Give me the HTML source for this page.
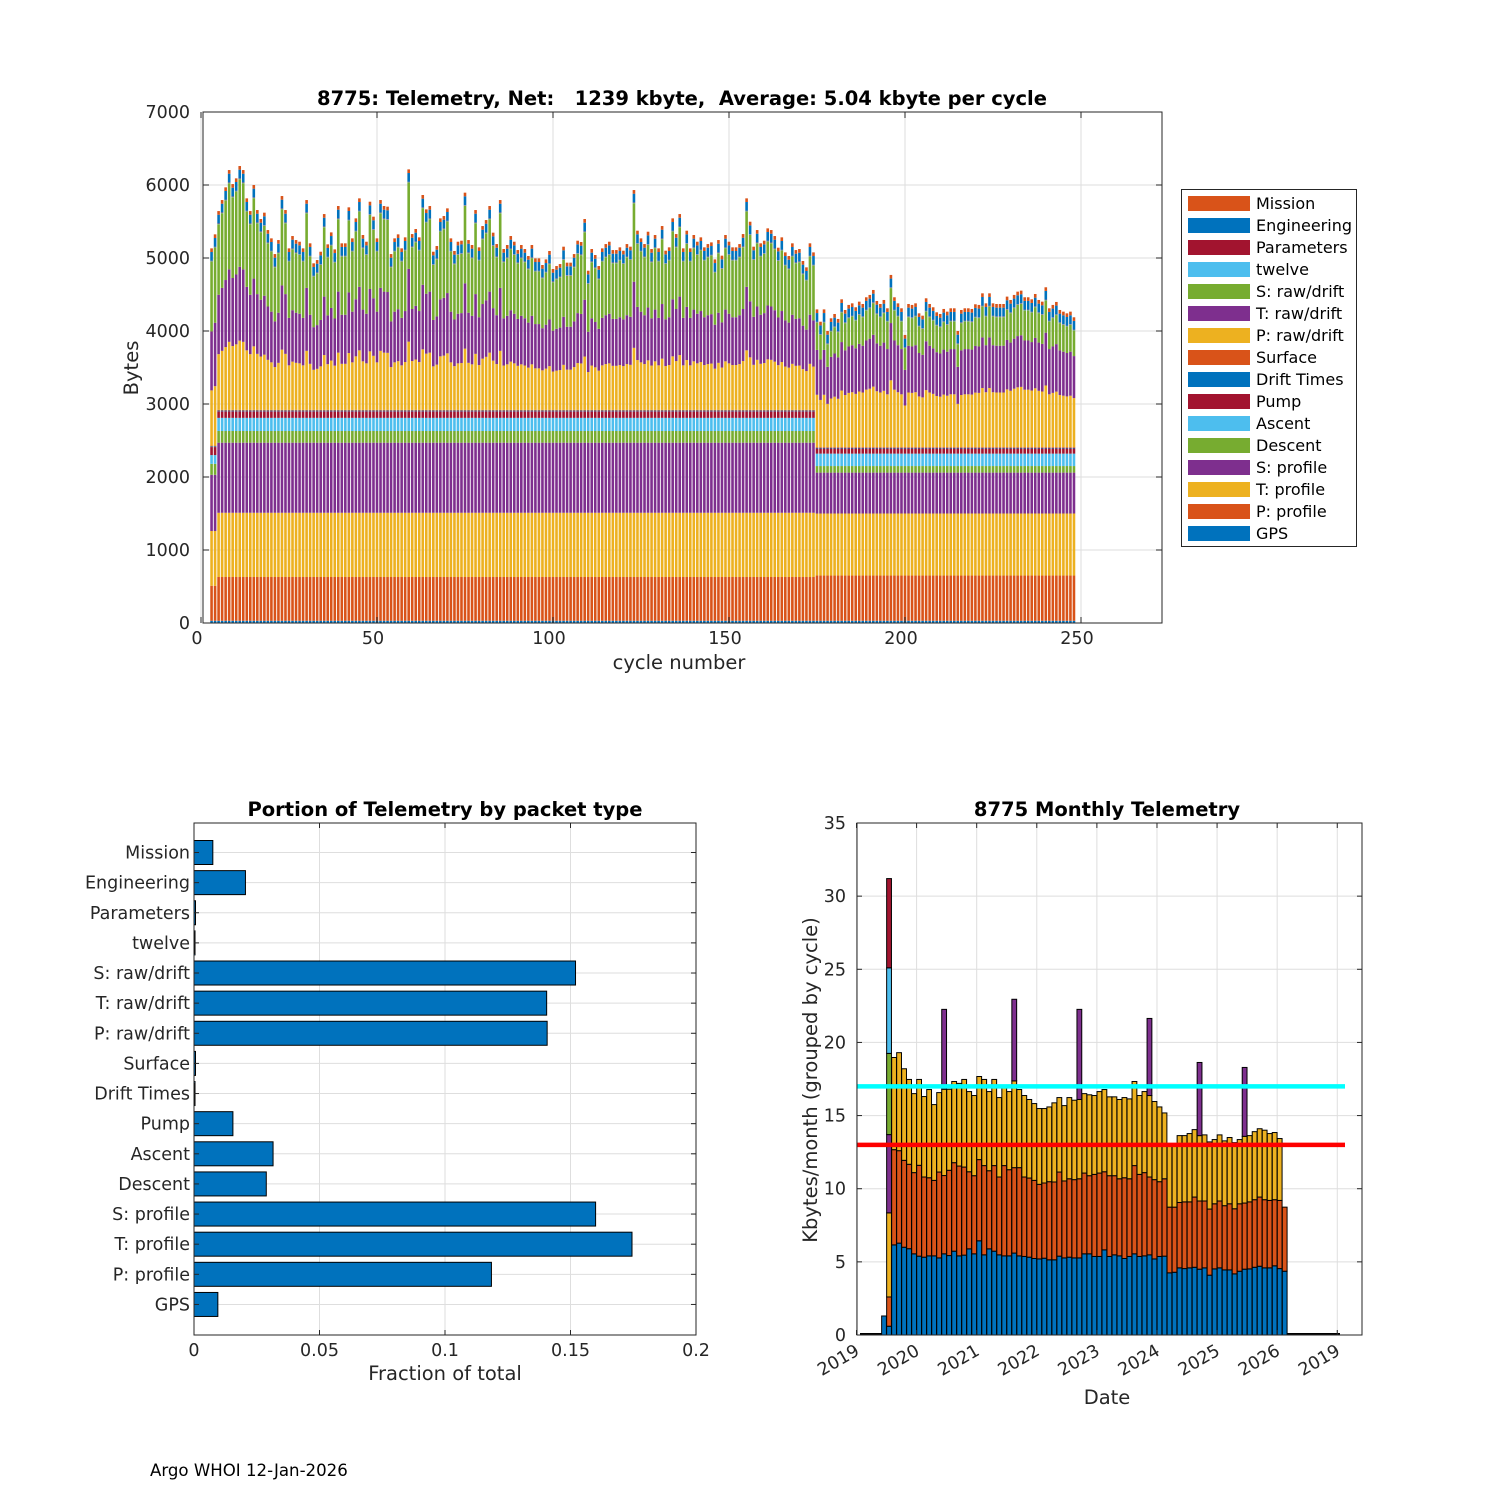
<!DOCTYPE html>
<html><head><meta charset="utf-8"><style>
html,body{margin:0;padding:0;background:#fff;}
svg{display:block;font-family:"DejaVu Sans","Liberation Sans",sans-serif;}
</style></head><body>
<svg id="svg" width="1500" height="1500" xmlns="http://www.w3.org/2000/svg">
<g id="top"></g>
<g id="bl"></g>
<g id="br"></g>
<text x="150" y="1476" font-size="16.6" fill="#000">Argo WHOI 12-Jan-2026</text>
</svg>
<script>
// ===== Top chart data =====
const firstCycle = 3;
const totalBytes = [5132,5324,5643,5794,5968,6205,6013,6091,6260,6205,5817,5643,6000,5657,5534,5621,5383,5269,5054,5246,5849,5657,5132,5301,5246,5223,5132,5794,5201,4927,4972,5086,5602,5187,5351,5118,5712,5201,5201,5694,5269,5543,5817,5315,5223,5771,5566,5269,5794,5712,5703,5054,5269,5324,5132,5283,6214,5328,5397,5283,5863,5666,5712,5086,5164,5543,5575,5680,5269,5096,5223,5237,5895,5246,5178,5657,5146,5438,5520,5712,5347,5191,5794,5123,5178,5301,5223,5109,
5178,5123,5027,5178,4995,4995,4904,4981,5096,4849,4890,4917,5155,4936,4936,5054,5237,5219,5534,4826,5123,5041,4890,5132,5191,5223,5109,5109,5146,5100,5191,5155,5931,5374,5269,5191,5360,5123,5315,5132,5438,5100,5146,5543,5328,5602,5132,5374,5132,5315,5223,5283,5146,5191,5214,4981,5246,5032,5315,5223,5146,5146,5191,5328,5817,5497,5155,5383,5201,5237,5406,5383,5301,5141,5283,5077,5027,5201,5109,5123,4959,4872,5201,5077,
4296,4127,4296,4000,
4174,4233,4165,4434,4288,4357,4379,4325,4402,4370,4462,4494,4562,4411,4370,4425,4311,4768,4462,4379,4311,3946,4370,4357,4379,4242,4210,4448,4370,4325,4256,4233,4302,4265,4311,4311,4000,4288,4311,4311,4302,4366,4357,4516,4379,4516,4379,4370,4370,4370,4471,4425,4494,4539,4553,4462,4462,4434,4507,4425,4402,4599,4311,4357,4398,4288,4265,4242,4265,4188];
// lower packet bytes per phase: GPS, P profile, T profile, S profile, Descent, Ascent, Pump, Drift Times, Surface
const phaseStart = [3, 5, 175];
const lowerA = [30,480,750,770,150,120,110,10,10];
const lowerB = [30,600,880,960,160,180,90,10,10];
const lowerC = [30,620,850,560,90,170,70,10,10];
// top packets: twelve, Parameters, Engineering, Mission
const upperBytes = [5,5,120,50];
// raw/drift split fractions (P, T, S) per phase
const rawFracA = [0.30,0.32,0.38];
const rawFracB = [0.30,0.32,0.38];
const rawFracC = [0.42,0.36,0.22];
const yTicksTop = [0,1000,2000,3000,4000,5000,6000,7000];
const xTicksTop = [0,50,100,150,200,250];
const legendNames = ["Mission","Engineering","Parameters","twelve","S: raw/drift","T: raw/drift","P: raw/drift","Surface","Drift Times","Pump","Ascent","Descent","S: profile","T: profile","P: profile","GPS"];

// ===== Bottom-left data =====
const packetNames = ["Mission","Engineering","Parameters","twelve","S: raw/drift","T: raw/drift","P: raw/drift","Surface","Drift Times","Pump","Ascent","Descent","S: profile","T: profile","P: profile","GPS"];
const packetFrac = [0.0075,0.0205,0.0006,0.0004,0.152,0.1405,0.1407,0.0006,0.0004,0.0155,0.0315,0.0288,0.16,0.1745,0.1185,0.0095];
const xTicksBL = [0,0.05,0.1,0.15,0.2];

// ===== Bottom-right data =====
const firstMonth = 5; // months since Jan 2019
const blueTop = [1.3,0.6,6.16,6.28,6.0,5.9,5.55,5.39,5.32,5.41,5.41,5.27,5.55,5.43,5.73,5.41,5.46,5.89,5.55,6.44,5.48,5.89,5.73,5.48,5.41,5.41,5.6,5.41,5.37,5.32,5.23,5.2,5.25,5.14,5.14,5.39,5.27,5.32,5.27,5.27,5.55,5.55,5.37,5.37,5.82,5.37,5.48,5.41,5.23,5.37,5.55,5.37,5.41,5.48,5.2,5.37,5.39,4.25,4.29,4.59,4.54,4.59,4.63,4.5,4.59,4.09,4.52,4.59,4.45,4.45,4.18,4.36,4.5,4.52,4.63,4.7,4.59,4.59,4.73,4.54,4.36];
const orangeTop = [1.3,2.6,12.67,12.6,11.94,11.67,11.1,11.6,10.8,10.75,10.57,11.14,10.9,11.26,11.78,11.55,11.48,11.16,10.89,11.99,11.58,11.23,11.58,10.8,11.58,11.3,11.44,11.44,10.8,10.73,10.57,10.3,10.39,10.48,10.46,11.14,10.53,10.68,10.62,10.68,11.07,10.89,10.98,11.07,11.16,10.89,10.89,10.68,10.75,10.68,11.58,10.98,11.1,10.8,10.62,10.48,10.68,8.74,8.74,9.06,9.1,9.1,9.43,9.16,9.16,8.61,8.97,9.16,8.84,8.97,8.63,8.97,9.02,9.1,9.25,9.43,9.25,9.2,9.25,9.2,8.74];
const yellowTop = [1.3,8.35,18.97,19.3,18.2,17.47,16.5,17.47,16.3,16.78,15.75,16.57,16.8,16.8,17.33,17.2,17.47,16.64,16.37,17.67,17.47,16.64,17.47,16.23,16.92,16.64,17.37,16.78,16.37,16.1,15.82,15.48,15.48,15.59,15.87,16.23,15.68,16.23,16.05,16.1,16.5,16.42,16.37,16.64,16.78,16.28,16.28,16.1,16.23,16.14,17.33,16.37,16.64,16.37,15.96,15.59,15.18,12.9,12.9,13.63,13.63,13.77,14.04,13.63,13.68,13.2,13.36,13.68,13.27,13.5,13.15,13.36,13.58,13.63,13.9,14.1,14.0,13.77,13.84,13.43,8.74];
const purpleIdx = [1,12,26,39,53,63,72];
const purpleTop = [13.7,22.26,22.95,22.26,21.64,18.63,18.29];
const extraIdx = [1];
const greenTop = [19.25];
const cyanTop = [25.1];
const redTop = [31.2];
const cyanLine = 17;
const redLine = 13;
const yTicksBR = [0,5,10,15,20,25,30,35];
const yearTicks = [2019,2020,2021,2022,2023,2024,2025,2026,2027];
const yearLabels = ["2019","2020","2021","2022","2023","2024","2025","2026","2019"];

// ===== helpers =====
const NS = "http://www.w3.org/2000/svg";
const C = {blue:"#0072BD",orange:"#D95319",yellow:"#EDB120",purple:"#7E2F8E",green:"#77AC30",cyan:"#4DBEEE",red:"#A2142F"};
function mk(parent, tag, attrs, text){
  const e = document.createElementNS(NS, tag);
  for (const k in attrs) e.setAttribute(k, attrs[k]);
  if (text !== undefined) e.textContent = text;
  parent.appendChild(e);
  return e;
}
const GRID = "#dedede", AX = "#262626";
const TICKF = 17.5, TITLEF = 19.5, LABF = 19.5;

// ===== TOP CHART =====
(function(){
  const g = document.getElementById('top');
  const L=203,R=1162,T=112,B=623;
  const xs = v => 201 + v*3.52;
  const ys = v => B - v*(B-T)/7000;
  yTicksTop.forEach(v=>{ if(v>0&&v<7000){const l=mk(g,'line',{x1:L,x2:R,y1:ys(v),y2:ys(v),stroke:GRID,'stroke-width':1});
     }});
  xTicksTop.forEach(v=>{ const l=mk(g,'line',{x1:xs(v),x2:xs(v),y1:T,y2:B,stroke:GRID,'stroke-width':1});
     });
  const colsLow=[C.blue,C.orange,C.yellow,C.purple,C.green,C.cyan,C.red,C.blue,C.orange];
  const colsRaw=[C.yellow,C.purple,C.green];
  const colsUp=[C.cyan,C.red,C.blue,C.orange];
  const bw=2.6;
  totalBytes.forEach((tot,i)=>{
    const cyc = firstCycle+i;
    let low, frac;
    if (cyc>=phaseStart[2]) {low=lowerC;frac=rawFracC;}
    else if (cyc>=phaseStart[1]) {low=lowerB;frac=rawFracB;}
    else {low=lowerA;frac=rawFracA;}
    const lowSum = low.reduce((a,b)=>a+b,0);
    const upSum = upperBytes.reduce((a,b)=>a+b,0);
    const raw = Math.max(0, tot-lowSum-upSum);
    const parts = [], cols=[];
    low.forEach((v,k)=>{parts.push(v);cols.push(colsLow[k]);});
    frac.forEach((f,k)=>{parts.push(raw*f);cols.push(colsRaw[k]);});
    upperBytes.forEach((v,k)=>{parts.push(v);cols.push(colsUp[k]);});
    const bar = mk(g,'g',{});
    
    
    let acc=0;
    parts.forEach((p,k)=>{
      const y1=ys(acc+p), y0=ys(acc);
      mk(bar,'rect',{x:xs(cyc)-bw/2,y:y1,width:bw,height:Math.max(0,y0-y1),fill:cols[k]});
      acc+=p;
    });
  });
  const bx=mk(g,'rect',{x:L,y:T,width:R-L,height:B-T,fill:'none',stroke:AX,'stroke-width':1});
   
  yTicksTop.forEach(v=>{
    mk(g,'line',{x1:L,x2:L+6,y1:ys(v),y2:ys(v),stroke:AX});
    mk(g,'line',{x1:R,x2:R-6,y1:ys(v),y2:ys(v),stroke:AX});
    const t=mk(g,'text',{x:190,y:ys(v)+6,'text-anchor':'end','font-size':TICKF,fill:AX},String(v));
     
  });
  xTicksTop.forEach(v=>{
    mk(g,'line',{x1:xs(v),x2:xs(v),y1:B,y2:B-6,stroke:AX});
    mk(g,'line',{x1:xs(v),x2:xs(v),y1:T,y2:T+6,stroke:AX});
    const t=mk(g,'text',{x:xs(v)-4,y:644,'text-anchor':'middle','font-size':TICKF,fill:AX},String(v));
     
  });
  const tt=mk(g,'text',{x:682,y:105,'text-anchor':'middle','font-size':TITLEF,'font-weight':'bold',fill:'#000'},'8775: Telemetry, Net:   1239 kbyte,  Average: 5.04 kbyte per cycle');
  tt.setAttribute('style','white-space:pre');
   
  const xl=mk(g,'text',{x:679,y:669,'text-anchor':'middle','font-size':LABF,fill:AX},'cycle number');
   
  const yl=mk(g,'text',{x:0,y:0,'text-anchor':'middle','font-size':LABF,fill:AX,transform:'translate(138,368) rotate(-90)'},'Bytes');
   
  const lg=mk(g,'g',{});
   
  mk(lg,'rect',{x:1181.5,y:189.5,width:175,height:357,fill:'#fff',stroke:AX,'stroke-width':1});
  const lcols=[C.orange,C.blue,C.red,C.cyan,C.green,C.purple,C.yellow,C.orange,C.blue,C.red,C.cyan,C.green,C.purple,C.yellow,C.orange,C.blue];
  legendNames.forEach((n,k)=>{
    const e=mk(lg,'g',{});
     
    const cy=203+k*22;
    mk(e,'rect',{x:1188,y:cy-7,width:62,height:15,fill:lcols[k]});
    mk(e,'text',{x:1256,y:cy+6,'font-size':16,fill:'#000'},n);
  });
})();

// ===== BOTTOM-LEFT =====
(function(){
  const g=document.getElementById('bl');
  const L=194,R=696,T=823,B=1335;
  const xs=v=>L+v*(R-L)/0.2;
  const yc=k=>852.5+k*30.13;
  xTicksBL.forEach(v=>{const l=mk(g,'line',{x1:xs(v),x2:xs(v),y1:T,y2:B,stroke:GRID});
     });
  packetNames.forEach((n,k)=>{const l=mk(g,'line',{x1:L,x2:R,y1:yc(k),y2:yc(k),stroke:GRID});
     });
  packetFrac.forEach((v,k)=>{
    const r=mk(g,'rect',{x:L,y:yc(k)-12,width:xs(v)-L,height:24,fill:C.blue,stroke:'#000','stroke-width':1});
    
    
    const t=mk(g,'text',{x:190,y:yc(k)+6,'text-anchor':'end','font-size':TICKF,fill:AX},packetNames[k]);
     
    mk(g,'line',{x1:L,x2:L+5,y1:yc(k),y2:yc(k),stroke:AX});
    mk(g,'line',{x1:R,x2:R-5,y1:yc(k),y2:yc(k),stroke:AX});
  });
  mk(g,'rect',{x:L,y:T,width:R-L,height:B-T,fill:'none',stroke:AX});
  xTicksBL.forEach(v=>{
    mk(g,'line',{x1:xs(v),x2:xs(v),y1:B,y2:B-5,stroke:AX});
    mk(g,'line',{x1:xs(v),x2:xs(v),y1:T,y2:T+5,stroke:AX});
    const t=mk(g,'text',{x:xs(v),y:1356,'text-anchor':'middle','font-size':TICKF,fill:AX},String(v));
     
  });
  const tt=mk(g,'text',{x:445,y:816,'text-anchor':'middle','font-size':TITLEF,'font-weight':'bold',fill:'#000'},'Portion of Telemetry by packet type');
   
  const xl=mk(g,'text',{x:445,y:1380,'text-anchor':'middle','font-size':LABF,fill:AX},'Fraction of total');
   
})();

// ===== BOTTOM-RIGHT =====
(function(){
  const g=document.getElementById('br');
  const L=857,R=1362,T=823,B=1335;
  const ys=v=>B-v*(B-T)/35;
  const xm=m=>856.5+m*5.008;
  yTicksBR.forEach(v=>{ if(v>0&&v<35){const l=mk(g,'line',{x1:L,x2:R,y1:ys(v),y2:ys(v),stroke:GRID});
     }});
  yearTicks.forEach(yr=>{const x=xm((yr-2019)*12); const l=mk(g,'line',{x1:x,x2:x,y1:T,y2:B,stroke:GRID});
     });
  const bl=mk(g,'line',{x1:860,x2:1340,y1:B-1,y2:B-1,stroke:'#000','stroke-width':2});
   
  const w=4.8;
  blueTop.forEach((bt,i)=>{
    const xc=xm(firstMonth+i+0.5);
    const bar=mk(g,'g',{});
    
    
    const segs=[[0,bt,C.blue],[bt,orangeTop[i],C.orange],[orangeTop[i],yellowTop[i],C.yellow]];
    let top=yellowTop[i];
    const pi=purpleIdx.indexOf(i);
    if(pi>=0){segs.push([top,purpleTop[pi],C.purple]);top=purpleTop[pi];}
    const ei=extraIdx.indexOf(i);
    if(ei>=0){segs.push([top,greenTop[ei],C.green]);segs.push([greenTop[ei],cyanTop[ei],C.cyan]);segs.push([cyanTop[ei],redTop[ei],C.red]);}
    segs.forEach(s=>{ if(s[1]>s[0]) mk(bar,'rect',{x:xc-w/2,y:ys(s[1]),width:w,height:ys(s[0])-ys(s[1]),fill:s[2],stroke:'#000','stroke-width':1});});
  });
  const cl=mk(g,'line',{x1:857,x2:1345,y1:ys(cyanLine),y2:ys(cyanLine),stroke:'#00FFFF','stroke-width':4.5});
   
  const rl=mk(g,'line',{x1:857,x2:1345,y1:ys(redLine),y2:ys(redLine),stroke:'#FF0000','stroke-width':4.5});
   
  mk(g,'rect',{x:L,y:T,width:R-L,height:B-T,fill:'none',stroke:AX});
  yTicksBR.forEach(v=>{
    mk(g,'line',{x1:L,x2:L+5,y1:ys(v),y2:ys(v),stroke:AX});
    mk(g,'line',{x1:R,x2:R-5,y1:ys(v),y2:ys(v),stroke:AX});
    const t=mk(g,'text',{x:846,y:ys(v)+6,'text-anchor':'end','font-size':TICKF,fill:AX},String(v));
     
  });
  yearTicks.forEach((yr,k)=>{
    const x=xm((yr-2019)*12);
    mk(g,'line',{x1:x,x2:x,y1:B,y2:B-5,stroke:AX});
    mk(g,'line',{x1:x,x2:x,y1:T,y2:T+5,stroke:AX});
    const t=mk(g,'text',{x:0,y:0,'text-anchor':'end','font-size':TICKF,fill:AX,transform:'translate('+(x+4)+',1354) rotate(-30)'},yearLabels[k]);
     
  });
  const tt=mk(g,'text',{x:1107,y:816,'text-anchor':'middle','font-size':TITLEF,'font-weight':'bold',fill:'#000'},'8775 Monthly Telemetry');
   
  const xl=mk(g,'text',{x:1107,y:1404,'text-anchor':'middle','font-size':LABF,fill:AX},'Date');
   
  const yl=mk(g,'text',{x:0,y:0,'text-anchor':'middle','font-size':LABF,fill:AX,transform:'translate(817,1080) rotate(-90)'},'Kbytes/month (grouped by cycle)');
   
})();
</script>
</body></html>
